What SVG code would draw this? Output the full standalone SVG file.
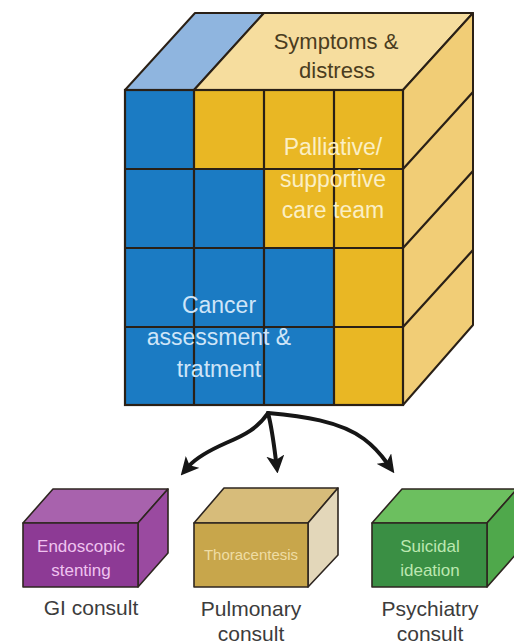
<svg xmlns="http://www.w3.org/2000/svg" width="514" height="644" viewBox="0 0 514 644">
<defs>
<style>
.grid{stroke:#2a2016;stroke-width:2.2;fill:none}
.edge{stroke:#2a2016;stroke-width:2;stroke-linejoin:round}
.bx{stroke:#2e2620;stroke-width:1.6;stroke-linejoin:round}
.lbl{font-family:"Liberation Sans",Arial,sans-serif;text-anchor:middle}
.big{font-size:23px}
.cap{font-size:21px;fill:#3c3c3c}
.conn{fill:none;stroke:#161616;stroke-width:4;stroke-linecap:round}
</style>
<marker id="ah" viewBox="0 0 10 10" refX="3" refY="5" markerWidth="18" markerHeight="18" markerUnits="userSpaceOnUse" orient="auto">
<path d="M0,0 L10,5 L0,10 L2.5,5 z" fill="#161616"/>
</marker>
</defs>
<rect width="514" height="644" fill="#ffffff"/>

<g id="cube">
<polygon class="edge" points="125,90 194,90 264,13 195,13" fill="#8fb5df"/>
<polygon class="edge" points="194,90 403,90 473,13 264,13" fill="#f6dd9e"/>
<polygon class="edge" points="403,90 473,13 473,325 403,405" fill="#f1cd76"/>
<path class="grid" d="M403,169 L473,92 M403,248 L473,171 M403,327 L473,250"/>
<g stroke="none">
<rect x="125" y="90" width="278" height="315" fill="#1b7bc3"/>
<rect x="194" y="90" width="209" height="79" fill="#e9b724"/>
<rect x="264" y="169" width="139" height="79" fill="#e9b724"/>
<rect x="334" y="248" width="69" height="157" fill="#e9b724"/>
</g>
<path class="grid" d="M194,90 V405 M264,90 V405 M334,90 V405 M125,169 H403 M125,248 H403 M125,327 H403"/>
<rect class="grid" x="125" y="90" width="278" height="315"/>
</g>

<g id="symptoms">
<text class="lbl" x="336" y="49" font-size="22" fill="#4a3c20">Symptoms &amp;</text>
<text class="lbl" x="337" y="78" font-size="22" fill="#4a3c20">distress</text>
</g>
<g id="palliative">
<text class="lbl big" x="333" y="155" fill="#fbefc4">Palliative/</text>
<text class="lbl big" x="333" y="187" fill="#fbefc4">supportive</text>
<text class="lbl big" x="333" y="218" fill="#fbefc4">care team</text>
</g>
<g id="cancer">
<text class="lbl big" x="219" y="313" fill="#cfe5f8">Cancer</text>
<text class="lbl big" x="219" y="345" fill="#cfe5f8">assessment &amp;</text>
<text class="lbl big" x="219" y="377" fill="#cfe5f8">tratment</text>
</g>

<g id="connectors">
<path class="conn" marker-end="url(#ah)" d="M268,413 C258,428 245,435 226,443 C208,451 196,458 189,466"/>
<path class="conn" marker-end="url(#ah)" d="M268,413 C272,428 274,445 276,461"/>
<path class="conn" marker-end="url(#ah)" d="M268,413 C302,416 340,421 364,439 C376,448 382,456 387,463"/>
</g>

<g id="gi">
<polygon class="bx" points="23,523 138,523 168,489 53,489" fill="#a862ad"/>
<polygon class="bx" points="138,523 168,489 168,553 138,587" fill="#9a4aa0"/>
<rect class="bx" x="23" y="523" width="115" height="64" fill="#8d3a95"/>
<text class="lbl" x="81" y="552" font-size="17" fill="#efc3ef">Endoscopic</text>
<text class="lbl" x="81" y="576" font-size="17" fill="#efc3ef">stenting</text>
<text class="lbl cap" x="91" y="615">GI consult</text>
</g>

<g id="pulmonary">
<polygon class="bx" points="194,523 308,523 338,488 224,488" fill="#d7bc7a"/>
<polygon class="bx" points="308,523 338,488 338,555 308,587" fill="#e3d7ba"/>
<rect class="bx" x="194" y="523" width="114" height="64" fill="#c8a64b"/>
<text class="lbl" x="251" y="560" font-size="15" fill="#efdda4">Thoracentesis</text>
<text class="lbl cap" x="251" y="616">Pulmonary</text>
<text class="lbl cap" x="251" y="641">consult</text>
</g>

<g id="psychiatry">
<polygon class="bx" points="372,523 487,523 517,489 402,489" fill="#6cbf5f"/>
<polygon class="bx" points="487,523 517,489 517,553 487,587" fill="#4fa84b"/>
<rect class="bx" x="372" y="523" width="115" height="64" fill="#3a8f44"/>
<text class="lbl" x="430" y="552" font-size="17" fill="#bce8b0">Suicidal</text>
<text class="lbl" x="430" y="576" font-size="17" fill="#bce8b0">ideation</text>
<text class="lbl cap" x="430" y="616">Psychiatry</text>
<text class="lbl cap" x="430" y="641">consult</text>
</g>
</svg>
